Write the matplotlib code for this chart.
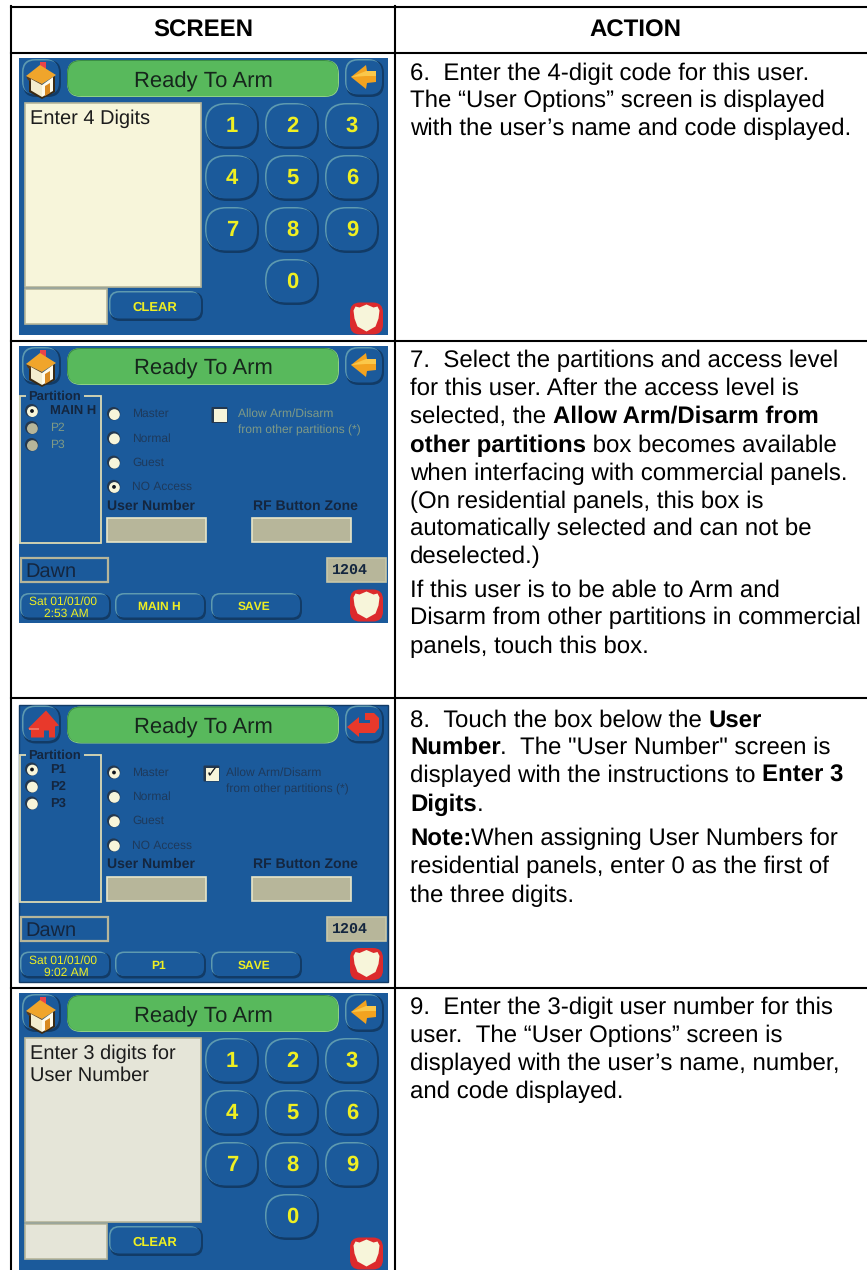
import matplotlib
matplotlib.use("Agg")
import matplotlib.pyplot as plt
from matplotlib.patches import Circle, FancyBboxPatch, Polygon, Rectangle

plt.rcParams['font.family'] = ['Liberation Sans', 'DejaVu Sans']
plt.rcParams['text.hinting'] = 'no_hinting'
plt.rcParams['text.hinting_factor'] = 1

# table text
HEADERS = ["SCREEN", "ACTION"]
TITLE = "Ready To Arm"
KEYPAD_DIGITS = ["1", "2", "3", "4", "5", "6", "7", "8", "9", "0"]
ACCESS_LEVELS = ["Master", "Normal", "Guest", "NO Access"]
ALLOW_LINES = ["Allow Arm/Disarm", "from other partitions (*)"]

ACTION_6 = [[("6.  Enter the 4-digit code for this user.", False)],
            [("The \u201cUser Options\u201d screen is displayed", False)],
            [("with the user\u2019s name and code displayed.", False)]]
ACTION_7 = [[("7.  Select the partitions and access level", False)],
            [("for this user. After the access level is", False)],
            [("selected, the ", False), ("Allow Arm/Disarm from", True)],
            [("other partitions", True), (" box becomes available", False)],
            [("when interfacing with commercial panels.", False)],
            [("(On residential panels, this box is", False)],
            [("automatically selected and can not be", False)],
            [("deselected.)", False)],
            [("If this user is to be able to Arm and", False)],
            [("Disarm from other partitions in commercial", False)],
            [("panels, touch this box.", False)]]
ACTION_8 = [[("8.  Touch the box below the ", False), ("User", True)],
            [("Number", True), (".  The \"User Number\" screen is", False)],
            [("displayed with the instructions to ", False), ("Enter 3", True)],
            [("Digits", True), (".", False)],
            [("Note:", True), ("When assigning User Numbers for", False)],
            [("residential panels, enter 0 as the first of", False)],
            [("the three digits.", False)]]
ACTION_9 = [[("9.  Enter the 3-digit user number for this", False)],
            [("user.  The \u201cUser Options\u201d screen is", False)],
            [("displayed with the user\u2019s name, number,", False)],
            [("and code displayed.", False)]]

BASELINES_6 = [80, 107, 135]
BASELINES_7 = [367, 395, 423, 452, 480, 508, 535, 563, 597, 624, 653]
BASELINES_8 = [727, 754, 782, 811, 845, 873, 902]
BASELINES_9 = [1014, 1042, 1070, 1098]

# colours
BG = "#1B5A9B"
GREEN = "#58B95C"
CREAM = "#F7F5DA"
PALE = "#E5E5D8"
KHAKI = "#B7B69A"
YELLOW = "#EFEF22"
DARK = "#14263F"
DIM = "#1E3A5C"
GREY_TEXT = "#7F9A86"
LIGHT_EDGE = "#5E9AB0"
DARK_EDGE = "#123B66"

fig = plt.figure(figsize=(867 / 100, 1270 / 100), dpi=100)
ax = fig.add_axes([0, 0, 1, 1])
ax.set_xlim(0, 867)
ax.set_ylim(1270, 0)
ax.axis("off")
renderer = fig.canvas.get_renderer()


def fs(px):
    return px * 0.72


def rrect(x0, y0, x1, y1, r, color, z=2):
    p = FancyBboxPatch((x0, y0), x1 - x0, y1 - y0, boxstyle="round,pad=0,rounding_size=%g" % r,
                       facecolor=color, edgecolor="none", zorder=z)
    ax.add_patch(p)
    return p


def label(x, y, s, px, color=DARK, bold=False, ha="center", family=None, va="center"):
    kw = {}
    if family:
        kw["family"] = family
    return ax.text(x, y, s, fontsize=fs(px), color=color, ha=ha, va=va,
                   fontweight="bold" if bold else "normal", zorder=6, **kw)


def button(x0, y0, x1, y1, r):
    # dark rim shows bottom right, light rim top left, the blue face hides the rest
    rrect(x0 + 1, y0 + 1, x1, y1, r, DARK_EDGE, 3)
    rrect(x0, y0, x1 - 3, y1 - 3, r, LIGHT_EDGE, 3)
    rrect(x0 + 1.5, y0 + 1.5, x1 - 2, y1 - 2.5, r - 1, BG, 3)


def box(x0, y0, x1, y1, face, edge=KHAKI, lw=1.2):
    ax.add_patch(Rectangle((x0, y0), x1 - x0, y1 - y0, facecolor=face, edgecolor=edge, linewidth=lw, zorder=3))


def radio(x, y, selected=False, enabled=True):
    ax.add_patch(Circle((x - 0.4, y - 0.4), 6.6, facecolor="#24384F", edgecolor="none", zorder=4))
    ax.add_patch(Circle((x + 0.4, y + 0.6), 5.4, facecolor=CREAM if enabled else KHAKI, edgecolor="none", zorder=4))
    if selected:
        ax.add_patch(Circle((x, y), 1.9, facecolor="#10141C", edgecolor="none", zorder=5))


def poly(sx, sy, pts, color, z=5):
    ax.add_patch(Polygon([(sx + a, sy + b) for a, b in pts], closed=True, facecolor=color,
                         edgecolor="none", zorder=z))


def badge(sx, sy):
    cx, cy = sx + 347.5, sy + 260.5
    rrect(cx - 16.5, cy - 16, cx + 16.5, cy + 16, 10, "#DC2A2C", 4)
    poly(cx, cy, [(0, -14), (-7, -11), (-11, -12), (-13, -8), (-12, 0), (-9, 8), (0, 13),
                  (9, 8), (12, 0), (13, -8), (11, -12), (7, -11)], CREAM)


def home_icon(sx, sy):
    poly(sx, sy, [(21, 4), (27, 4), (27, 11), (21, 11)], "#E8444A", 4)
    poly(sx, sy, [(10, 20), (23, 27), (23, 41), (10, 34)], "#3A2A14", 4.4)
    poly(sx, sy, [(23, 27), (36, 18), (36, 34), (23, 41)], "#3A2A14", 4.4)
    poly(sx, sy, [(12, 21), (23, 27), (23, 39), (12, 32.5)], "#F3EDCF")
    poly(sx, sy, [(23, 27), (34, 19), (34, 33), (23, 39)], "#FFFBEA")
    poly(sx, sy, [(26, 28), (31, 25), (31, 35), (26, 38)], "#D98A20")
    poly(sx, sy, [(7, 18), (21, 7), (37, 17), (23, 26)], "#F0A52B")
    poly(sx, sy, [(7, 18), (23, 26), (23, 29), (9, 22)], "#5A3A18", 4.5)


def red_house(sx, sy):
    poly(sx, sy, [(9, 24), (27, 6), (40, 21), (36, 22), (36, 33), (30, 33), (30, 26), (25, 26), (25, 33),
                  (12, 33), (12, 25)], "#E8392B")
    poly(sx, sy, [(10, 23), (20, 23), (20, 25), (10, 25)], "#F2705F", 5.1)


def back_arrow(sx, sy):
    poly(sx, sy, [(332, 19), (347, 7), (348, 13), (357, 13), (357, 24), (348, 25), (347, 31)], "#F3A320")
    poly(sx, sy, [(332, 19), (347, 13), (357, 13), (357, 18), (347, 18)], "#FBC84A", 5.1)


def red_return(sx, sy):
    poly(sx, sy, [(328, 22.5), (340, 12.5), (340, 18.5), (351, 18.5), (351, 15.5), (346, 15.5), (346, 8.5), (355, 8.5),
                  (360, 13.5), (360, 23.5), (356, 28.5), (340, 28.5), (340, 32.5)], "#E8392B")


def header_row(sx, sy, title_y, home=home_icon, back=back_arrow):
    button(sx + 3, sy + 1, sx + 42, sy + 39, 13)
    button(sx + 326, sy + 1, sx + 365, sy + 39, 13)
    rrect(sx + 48, sy + 2, sx + 320, sy + 39, 14, "#8FD284", 3)
    rrect(sx + 48, sy + 2, sx + 319, sy + 38, 14, "#3B8E44", 3)
    rrect(sx + 49, sy + 3, sx + 319, sy + 38, 13, GREEN, 3)
    label(sx + 184.5, sy + title_y, TITLE, 21.7, "#16261C", va="baseline")
    home(sx, sy)
    back(sx, sy)


def keypad_screen(sy, text_lines, panel):
    sx = 19
    ax.add_patch(Rectangle((sx, sy), 369, 277, facecolor=BG, edgecolor="none", zorder=1))
    header_row(sx, sy, 29)
    box(sx + 6, sy + 45, sx + 182, sy + 229, panel)
    for i, s in enumerate(text_lines):
        label(sx + 11, sy + 66 + 22 * i, s, 20, "#1C1C1C", ha="left", va="baseline")
    box(sx + 6, sy + 231, sx + 88, sy + 266, panel)
    button(sx + 90, sy + 233, sx + 184, sy + 263, 10)
    label(sx + 136, sy + 250, "CLEAR", 12.8, YELLOW, True)
    for i, d in enumerate(KEYPAD_DIGITS):
        col = i % 3 if d != "0" else 1
        row = i // 3
        cx, cy = sx + 213 + 60 * col, sy + 68 + 52 * row
        button(cx - 27, cy - 23, cx + 27, cy + 23, 21)
        label(cx, cy, d, 22.5, YELLOW, True)
    badge(sx, sy)


def options_screen(sy, title_y, partitions, partition_on, partition_enabled, access_on, check, allow_x, check_x,
                   allow_color, date_lines, part_button, red_icons):
    sx = 19
    ax.add_patch(Rectangle((sx, sy), 369, 277, facecolor=BG, edgecolor=DARK_EDGE if red_icons else "none",
                           linewidth=1, zorder=1))
    if red_icons:
        header_row(sx, sy, title_y, red_house, red_return)
    else:
        header_row(sx, sy, title_y)
    # partition frame
    ax.add_patch(Rectangle((sx + 1, sy + 50), 81, 147, facecolor="none", edgecolor="#DCDAB4", linewidth=1.3, zorder=3))
    ax.add_patch(Rectangle((sx + 7, sy + 46), 58, 8, facecolor=BG, edgecolor="none", zorder=3.5))
    label(sx + 35, sy + 51, "Partition", 13, DARK, True)
    clip = Rectangle((sx + 1, sy + 50), 75, 147, transform=ax.transData)
    for i, p in enumerate(partitions):
        y = sy + 65 + 17 * i
        radio(sx + 13, y, partition_on == i, partition_enabled[i])
        t = label(sx + 31, y, p, 13 if partition_enabled[i] else 12, DARK if partition_enabled[i] else GREY_TEXT,
                  partition_enabled[i], ha="left")
        t.set_clip_path(clip)
    # access level
    for i, s in enumerate(ACCESS_LEVELS):
        y = sy + 68 + 24.3 * i
        radio(sx + 95, y, access_on == i)
        label(sx + 113, y, s, 12.3, DIM, ha="left")
    # allow box
    rrect(sx + check_x - 0.5, sy + 61, sx + check_x + 15.5, sy + 77, 1, "#24384F", 3)
    ax.add_patch(Rectangle((sx + check_x + 1.5, sy + 63), 13, 13, facecolor=CREAM, edgecolor="none", zorder=3.5))
    if check:
        label(sx + check_x + 8, sy + 69, "\u2713", 15, "#10141C", True, family=["DejaVu Sans"])
    for i, s in enumerate(ALLOW_LINES):
        label(sx + allow_x, sy + 68 + 16.5 * i, s, 12.3, allow_color, ha="left")
    # user number and rf zone
    label(sx + 88, sy + 160, "User Number", 14, DARK, True, ha="left")
    label(sx + 234, sy + 160, "RF Button Zone", 14, DARK, True, ha="left")
    box(sx + 88, sy + 172, sx + 187, sy + 196, KHAKI, "#E8E6C8")
    box(sx + 233, sy + 172, sx + 332, sy + 196, KHAKI, "#E8E6C8")
    # name and code
    ax.add_patch(Rectangle((sx + 2, sy + 212), 87, 24, facecolor="none", edgecolor=KHAKI, linewidth=1.6, zorder=3))
    label(sx + 6, sy + 226, "Dawn", 19.6, DARK, ha="left")
    box(sx + 308, sy + 212, sx + 367, sy + 236, KHAKI, "#C8C7A8")
    label(sx + 331, sy + 224, "1204", 14.6, DARK, True, family=["Liberation Mono"])
    # bottom buttons
    button(sx + 1, sy + 247, sx + 92, sy + 274, 9)
    label(sx + 44, sy + 256, date_lines[0], 12.3, YELLOW)
    label(sx + 47, sy + 268, date_lines[1], 12.3, YELLOW)
    button(sx + 96, sy + 247, sx + 187, sy + 274, 9)
    label(sx + 140, sy + 261, part_button, 12.3, YELLOW, True)
    button(sx + 192, sy + 247, sx + 283, sy + 274, 9)
    label(sx + 235, sy + 261, "SAVE", 12.3, YELLOW, True)
    badge(sx, sy - 1)


def text_width(s, px, bold):
    # trailing spaces are not trusted, so measure with a dot behind and take it off
    a = ax.text(0, 0, s + ".", fontsize=fs(px), fontweight="bold" if bold else "normal")
    b = ax.text(0, 0, ".", fontsize=fs(px), fontweight="bold" if bold else "normal")
    w = a.get_window_extent(renderer).width - b.get_window_extent(renderer).width
    a.remove()
    b.remove()
    return w


def action_text(lines, baselines, px=23.8):
    for runs, y in zip(lines, baselines):
        x = 410
        for s, bold in runs:
            ax.text(x, y, s, fontsize=fs(px), color="black", ha="left", va="baseline",
                    fontweight="bold" if bold else "normal", zorder=6)
            x += text_width(s, px, bold)


# table grid
lw = 1.5
ax.plot([11, 867], [7, 7], color="black", lw=lw, zorder=8)
for y in [52.5, 341, 697.5, 988]:
    ax.plot([11, 867], [y, y], color="black", lw=lw, zorder=8)
ax.plot([11, 11], [6, 1270], color="black", lw=lw, zorder=8)
ax.plot([395, 395], [6, 1270], color="black", lw=lw, zorder=8)

ax.text(203, 37, HEADERS[0], fontsize=fs(24.5), fontweight="bold", ha="center", va="baseline")
ax.text(635, 37, HEADERS[1], fontsize=fs(24.5), fontweight="bold", ha="center", va="baseline")

keypad_screen(58, ["Enter 4 Digits"], CREAM)
options_screen(346, 28, ["MAIN H", "P2", "P3"], 0, [True, False, False], 3, False, 219, 193, GREY_TEXT,
               ["Sat 01/01/00", "2:53 AM"], "MAIN H", False)
options_screen(704.5, 28.5, ["P1", "P2", "P3"], 0, [True, True, True], 0, True, 207, 185, DIM,
               ["Sat 01/01/00", "9:02 AM"], "P1", True)
keypad_screen(993, ["Enter 3 digits for", "User Number"], PALE)

action_text(ACTION_6, BASELINES_6)
action_text(ACTION_7, BASELINES_7)
action_text(ACTION_8, BASELINES_8)
action_text(ACTION_9, BASELINES_9)

fig.savefig("out.png", dpi=100, facecolor="white")
